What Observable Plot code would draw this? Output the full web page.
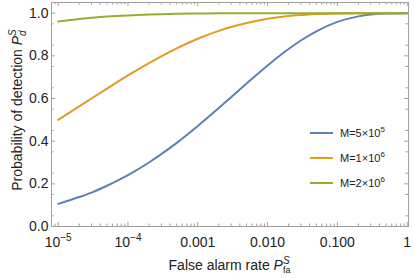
<!DOCTYPE html>
<html><head><meta charset="utf-8">
<script src="https://cdn.jsdelivr.net/npm/d3@7"></script>
<script src="https://cdn.jsdelivr.net/npm/@observablehq/plot@0.6"></script>
<style>body{margin:0;background:#fff;} #chart{width:415px;height:278px;}</style>
</head><body><div id="chart"></div>
<script>
// ---- data ----
const pfa = [1e-5,2e-5,3e-5,5e-5,1e-4,2e-4,3e-4,5e-4,1e-3,2e-3,3e-3,5e-3,0.01,0.02,0.03,0.05,0.1,0.2,0.3,0.5,1];
const pdM5e5 = [0.106,0.138,0.159,0.191,0.241,0.300,0.339,0.392,0.471,0.555,0.606,0.670,0.755,0.832,0.872,0.915,0.959,0.985,0.994,0.999,1.000];
const pdM1e6 = [0.500,0.563,0.600,0.646,0.708,0.766,0.798,0.835,0.880,0.917,0.935,0.954,0.974,0.987,0.991,0.996,0.999,1.000,1.000,1.000,1.000];
const pdM2e6 = [0.9614,0.9729,0.9783,0.9839,0.9896,0.9936,0.9953,0.9969,0.9984,0.9992,0.9995,0.9997,0.9999,1,1,1,1,1,1,1,1];
const seriesNames = ["M=5×10^5","M=1×10^6","M=2×10^6"];
const seriesColors = ["#5E81B5","#E19C24","#8FB032"];
const xTicks = [1e-5,1e-4,1e-3,1e-2,1e-1,1];
const xTickLabels = ["10^−5","10^−4","0.001","0.010","0.100","1"];
const yTicks = [0,0.2,0.4,0.6,0.8,1.0];
const yTickLabels = ["0.0","0.2","0.4","0.6","0.8","1.0"];

const rows = [pdM5e5, pdM1e6, pdM2e6].flatMap((s, k) =>
  s.map((v, i) => ({pfa: pfa[i], pd: v, series: seriesNames[k]})));

// ---- layout ----
const W = 415, H = 278, mL = 51, mR = 7, mT = 2, mB = 52;
const fw = W - mL - mR, fh = H - mT - mB;
const xDomain = [Math.pow(10, -5.096), Math.pow(10, 0.019)];
const frameColor = "#a0a0a0";
const textColor = "#222";
const font = "'Liberation Sans', Arial, sans-serif";

const xMinor = [];
for (let k = -6; k <= 0; k++) for (let m = 2; m <= 9; m++) {
  const v = m * Math.pow(10, k);
  if (v > xDomain[0] && v < xDomain[1]) xMinor.push(v);
}
const yMinor = d3.range(0.05, 1.05, 0.1);

const major = 4, minor = 2.5;
const plot = Plot.plot({
  width: W, height: H, marginLeft: mL, marginRight: mR, marginTop: mT, marginBottom: mB,
  x: {type: "log", domain: xDomain},
  y: {domain: [0, 1.05]},
  color: {domain: seriesNames, range: seriesColors},
  style: {fontFamily: font, fontSize: "14px", color: textColor, background: "white"},
  marks: [
    Plot.frame({stroke: frameColor}),
    Plot.tickX(xTicks, {x: d => d, insetTop: fh - major, stroke: frameColor}),
    Plot.tickX(xTicks, {x: d => d, insetBottom: fh - major, stroke: frameColor}),
    Plot.tickX(xMinor, {x: d => d, insetTop: fh - minor, stroke: frameColor}),
    Plot.tickX(xMinor, {x: d => d, insetBottom: fh - minor, stroke: frameColor}),
    Plot.tickY(yTicks, {y: d => d, insetRight: fw - major, stroke: frameColor}),
    Plot.tickY(yTicks, {y: d => d, insetLeft: fw - major, stroke: frameColor}),
    Plot.tickY(yMinor, {y: d => d, insetRight: fw - minor, stroke: frameColor}),
    Plot.tickY(yMinor, {y: d => d, insetLeft: fw - minor, stroke: frameColor}),
    Plot.axisX(xTicks, {tickSize: 0, tickPadding: 11, label: null,
      tickFormat: d => xTickLabels[xTicks.indexOf(d)]}),
    Plot.axisY(yTicks, {tickSize: 0, tickPadding: 3, label: null,
      tickFormat: d => yTickLabels[yTicks.indexOf(d)]}),
    Plot.line(rows, {x: "pfa", y: "pd", z: "series", stroke: "series",
      strokeWidth: 2, curve: "monotone-x"})
  ]
});
document.getElementById("chart").appendChild(plot);

const svg = d3.select(plot);
// superscripts in tick labels
svg.selectAll('g[aria-label="x-axis tick label"] text').each(function() {
  const t = d3.select(this);
  const s = t.text();
  if (s.includes("^")) {
    const [base, exp] = s.split("^");
    t.text("");
    t.append("tspan").text(base);
    t.append("tspan").attr("dy", -6).attr("font-size", "10px").text(exp);
  }
});

// axis titles
const xt = svg.append("text").attr("x", mL + fw / 2).attr("y", 270)
  .attr("text-anchor", "middle").attr("fill", textColor)
  .style("font-family", font).style("font-size", "14px");
xt.append("tspan").text("False alarm rate ");
xt.append("tspan").attr("font-style", "italic").text("P");
xt.append("tspan").attr("font-style", "italic").attr("font-size", "10px").attr("dy", -6).text("S");
xt.append("tspan").attr("font-size", "9px").attr("dx", -6.7).attr("dy", 9).text("fa");

const yt = svg.append("text").attr("transform", `translate(22,${mT + fh / 2 - 4}) rotate(-90)`)
  .attr("text-anchor", "middle").attr("fill", textColor)
  .style("font-family", font).style("font-size", "14px");
yt.append("tspan").text("Probability of detection ");
yt.append("tspan").attr("font-style", "italic").text("P");
yt.append("tspan").attr("font-style", "italic").attr("font-size", "10px").attr("dy", -6).text("S");
yt.append("tspan").attr("font-style", "italic").attr("font-size", "10px").attr("dx", -6.7).attr("dy", 10).text("d");

// legend
const lg = svg.append("g").style("font-family", font).style("font-size", "11px")
  .attr("text-anchor", "start");
seriesNames.forEach((name, i) => {
  const y = 133 + 25 * i;
  lg.append("line").attr("x1", 310).attr("x2", 333).attr("y1", y).attr("y2", y)
    .attr("stroke", seriesColors[i]).attr("stroke-width", 2);
  const [base, exp] = name.split("^");
  const t = lg.append("text").attr("x", 340).attr("y", y + 4).attr("fill", textColor)
    .attr("text-anchor", "start");
  t.append("tspan").text(base);
  t.append("tspan").attr("dy", -5).attr("font-size", "8px").text(exp);
});
</script>
</body></html>
